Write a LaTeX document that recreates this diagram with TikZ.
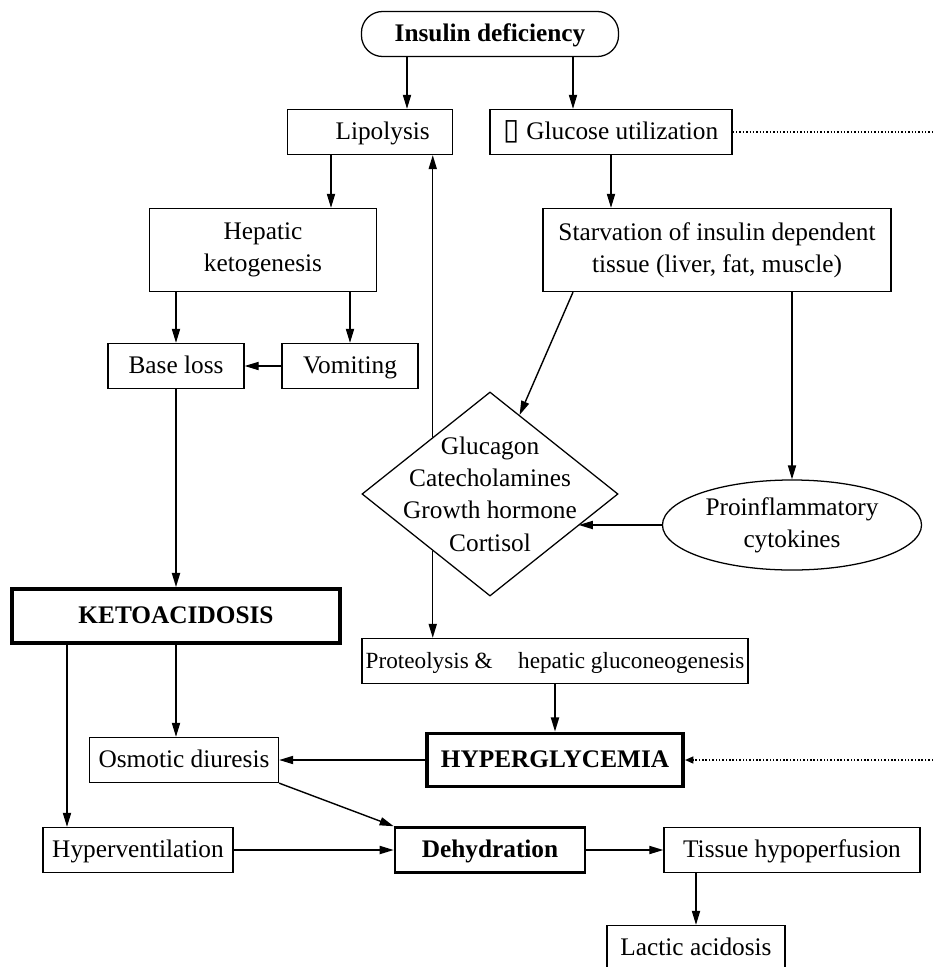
\documentclass[tikz,border=0pt]{standalone}
\usepackage{fontspec}
\setmainfont{Liberation Serif}
\newfontfamily\symfont{DejaVu Sans}
\usetikzlibrary{shapes.geometric, arrows.meta, positioning, calc}

\begin{document}
\begin{tikzpicture}[
    x=0.025cm, y=-0.025cm,
    font=\fontsize{18}{23}\selectfont,
    box/.style={
        rectangle,
        draw=black,
        line width=0.9pt,
        inner sep=0pt,
        minimum height=1.125cm,
        text height=13.3pt,
        text depth=3.2pt,
        align=center
    },
    tallbox/.style={box, text height=, text depth=, minimum height=2.075cm},
    startbox/.style={box, rounded corners=15pt, minimum width=6.425cm,
        font=\fontsize{18}{23}\selectfont\bfseries},
    heavybox/.style={box, line width=2.8pt, font=\fontsize{18}{23}\selectfont\bfseries},
    hormbox/.style={diamond, draw=black, line width=0.9pt, inner sep=0pt,
        minimum width=6.4cm, minimum height=5.1cm},
    hormtext/.style={align=center, inner sep=0pt},
    cytobox/.style={ellipse, draw=black, line width=0.9pt, inner sep=0pt,
        minimum width=6.475cm, minimum height=2.25cm, align=center},
    link/.style={draw=black, line width=1pt, -{Triangle[length=10pt, width=5.8pt]}},
    dotline/.style={draw=black, line width=1pt, dash pattern=on 1pt off 1.4pt},
    dotlink/.style={dotline, -{Triangle[length=6pt, width=5pt]}}
]
\useasboundingbox (0,0) rectangle (933,967);

% Top of the chart
\node[startbox] (insulin) at (490,34) {Insulin deficiency};
\node[box, minimum width=4.125cm] (lipo) at (370,132) {\hspace*{1em}Lipolysis};
\node[box, minimum width=6.05cm] (gluc) at (611,132) {{\symfont\fontsize{21}{22}\selectfont ▯} Glucose utilization};

% Fat branch
\node[tallbox, minimum width=5.675cm] (hepatic) at (263,250) {Hepatic\\ketogenesis};
\node[box, minimum width=3.4cm] (base) at (176,366) {Base loss};
\node[box, minimum width=3.4cm] (vomit) at (350,366) {Vomiting};
\node[heavybox, minimum width=8.2cm, minimum height=1.35cm] (keto) at (176,616) {KETOACIDOSIS};

% Glucose branch
\node[tallbox, minimum width=8.7cm] (starv) at (717,250) {Starvation of insulin dependent\\tissue (liver, fat, muscle)};
\node[hormbox] (horm) at (490,494) {};
\node[hormtext] (hormlist) at (horm.center) {Glucagon\\Catecholamines\\Growth hormone\\Cortisol};
\node[cytobox] (cyto) at (792,525) {Proinflammatory\\cytokines};
\node[box, minimum width=9.65cm, font=\fontsize{16.5}{22}\selectfont] (prot) at (555,661) {Proteolysis \&\hspace{14pt} hepatic gluconeogenesis};
\node[heavybox, minimum width=6.4cm, minimum height=1.325cm] (hyper) at (555,760) {HYPERGLYCEMIA};

% Bottom rows
\node[box, minimum width=4.725cm] (osmo) at (184,760) {Osmotic diuresis};
\node[box, minimum width=4.75cm] (hypervent) at (138,850) {Hyperventilation};
\node[box, line width=1.8pt, minimum width=4.75cm, font=\fontsize{18}{23}\selectfont\bfseries] (dehyd) at (490,850) {Dehydration};
\node[box, minimum width=6.4cm] (tissue) at (792,850) {Tissue hypoperfusion};
\node[box, minimum width=4.45cm] (lactic) at (696,948) {Lactic acidosis};

% Connector ends
\coordinate (inL) at ($(insulin.south)+(-83,0)$);
\coordinate (inR) at ($(insulin.south)+(83,0)$);
\coordinate (lipoL) at ($(lipo.south)+(-39,0)$);
\coordinate (starvL) at ($(starv.south)+(-144,0)$);
\coordinate (ketoL) at ($(keto.south)+(-109,0)$);
\coordinate (hup) at ($(horm.west)!0.555!(horm.north)$);
\coordinate (hdown) at ($(horm.west)!0.555!(horm.south)$);
\coordinate (hne) at ($(horm.north)!0.23!(horm.east)$);
\coordinate (hse) at ($(horm.east)!0.31!(horm.south)$);
\coordinate (glucout) at (933,132);
\coordinate (hyperin) at (933,760);

% Connectors
\draw[link] (inL) -- (inL |- lipo.north);
\draw[link] (inR) -- (inR |- gluc.north);
\draw[dotline] (gluc.east) -- (glucout);
\draw[link] (lipoL) -- (lipoL |- hepatic.north);
\draw[link] (gluc.south) -- (gluc.south |- starv.north);
\draw[link] (base.north |- hepatic.south) -- (base.north);
\draw[link] (vomit.north |- hepatic.south) -- (vomit.north);
\draw[link] (vomit) -- (base);
\draw[link] (base) -- (keto);
\draw[link] (starvL) -- (hne);
\draw[link] (cyto.north |- starv.south) -- (cyto.north);
\draw[link] (cyto.west) -- (cyto.west -| hse);
\draw[link] (hup) -- (hup |- lipo.south);
\draw[link] (hdown) -- (hdown |- prot.north);
\draw[link] (prot) -- (hyper);
\draw[link] (hyper) -- (osmo);
\draw[dotlink] (hyperin) -- (hyper.east);
\draw[link] (keto.south) -- (keto.south |- osmo.north);
\draw[link] (ketoL) -- (ketoL |- hypervent.north);
\draw[link] (osmo.south east) -- (dehyd.north west);
\draw[link] (hypervent) -- (dehyd);
\draw[link] (dehyd) -- (tissue);
\draw[link] (lactic.north |- tissue.south) -- (lactic.north);

\end{tikzpicture}
\end{document}
